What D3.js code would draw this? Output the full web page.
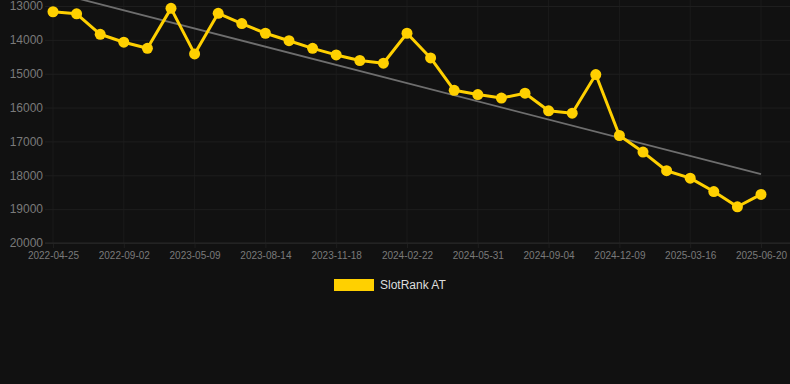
<!DOCTYPE html>
<html>
<head>
<meta charset="utf-8">
<script src="https://cdnjs.cloudflare.com/ajax/libs/d3/7.8.5/d3.min.js"></script>
<style>
  html, body { margin: 0; padding: 0; background: #111111; }
</style>
</head>
<body>
<div id="chart"></div>
<script>
// categories (every 3rd one is labelled on the axis)
var dates = ["2022-04-25","2022-06-10","2022-07-20","2022-09-02","2022-12-01","2023-03-10",
             "2023-05-09","2023-06-12","2023-07-14","2023-08-14","2023-09-15","2023-10-17",
             "2023-11-18","2023-12-20","2024-01-21","2024-02-22","2024-03-25","2024-04-28",
             "2024-05-31","2024-07-02","2024-08-03","2024-09-04","2024-10-06","2024-11-07",
             "2024-12-09","2025-01-10","2025-02-12","2025-03-16","2025-04-17","2025-05-19",
             "2025-06-20"];
var rankAT = [13170,13230,13835,14070,14250,13070,14415,13215,13520,13805,14025,14250,
              14445,14610,14690,13805,14535,15490,15615,15720,15575,16095,16165,15025,
              16825,17315,17865,18085,18480,18930,18565];
var trendValues = [12590, 17965];   // first and last value of trend line
var yTicks = [13000,14000,15000,16000,17000,18000,19000,20000];
var seriesName = "SlotRank AT";

var width = 790, height = 384;
var svg = d3.select("#chart").append("svg")
    .attr("width", width)
    .attr("height", height)
    .style("background", "#111111");

var x = d3.scalePoint().domain(dates).range([53, 761]);
var y = d3.scaleLinear().domain([13000, 20000]).range([6, 243]);
var tickDates = dates.filter(function(d, i) { return i % 3 === 0; });

var font = "'Liberation Sans', Arial, sans-serif";

// vertical grid
svg.append("g").selectAll("line.vgrid").data(tickDates).enter().append("line")
    .attr("x1", function(d) { return x(d); })
    .attr("x2", function(d) { return x(d); })
    .attr("y1", 0)
    .attr("y2", 243)
    .style("stroke", "#1b1b1b")
    .style("stroke-width", 1);

// horizontal grid + y labels
var yAxis = svg.append("g")
    .attr("transform", "translate(45,0)")
    .call(d3.axisLeft(y).tickValues(yTicks).tickSize(-745).tickPadding(2).tickFormat(d3.format("d")));
yAxis.select(".domain").remove();
yAxis.selectAll("line").style("stroke", "#1e1e1e").style("stroke-width", 1);
yAxis.selectAll("text")
    .style("font-family", font)
    .style("font-size", "12px")
    .style("fill", "#7a7a7a");

// x labels
var xAxis = svg.append("g")
    .attr("transform", "translate(0,243)")
    .call(d3.axisBottom(x).tickValues(tickDates).tickSize(5).tickPadding(4));
xAxis.select(".domain").remove();
xAxis.selectAll("line").style("stroke", "#1e1e1e");
xAxis.selectAll("text")
    .style("font-family", font)
    .style("font-size", "10px")
    .style("fill", "#7a7a7a");

// 20000 baseline a little brighter
svg.append("line")
    .attr("x1", 45).attr("x2", 790)
    .attr("y1", y(20000)).attr("y2", y(20000))
    .style("stroke", "#282828");

// trend line
svg.append("line")
    .attr("x1", x(dates[0]))
    .attr("y1", y(trendValues[0]))
    .attr("x2", x(dates[dates.length - 1]))
    .attr("y2", y(trendValues[1]))
    .style("stroke", "#6e6e6e")
    .style("stroke-width", 1.8);

// series line
var line = d3.line()
    .x(function(d, i) { return x(dates[i]); })
    .y(function(d) { return y(d); });

svg.append("path")
    .datum(rankAT)
    .attr("d", line)
    .style("fill", "none")
    .style("stroke", "#FFD000")
    .style("stroke-width", 3)
    .style("stroke-linejoin", "round");

svg.selectAll("circle.pt").data(rankAT).enter().append("circle")
    .attr("class", "pt")
    .attr("cx", function(d, i) { return x(dates[i]); })
    .attr("cy", function(d) { return y(d); })
    .attr("r", 5.5)
    .style("fill", "#FFD000");

// legend
svg.append("rect")
    .attr("x", 334).attr("y", 279)
    .attr("width", 40).attr("height", 12)
    .style("fill", "#FFD000");
svg.append("text")
    .attr("x", 380).attr("y", 289)
    .text(seriesName)
    .style("font-family", font)
    .style("font-size", "12px")
    .style("fill", "#dddddd");
</script>
</body>
</html>
